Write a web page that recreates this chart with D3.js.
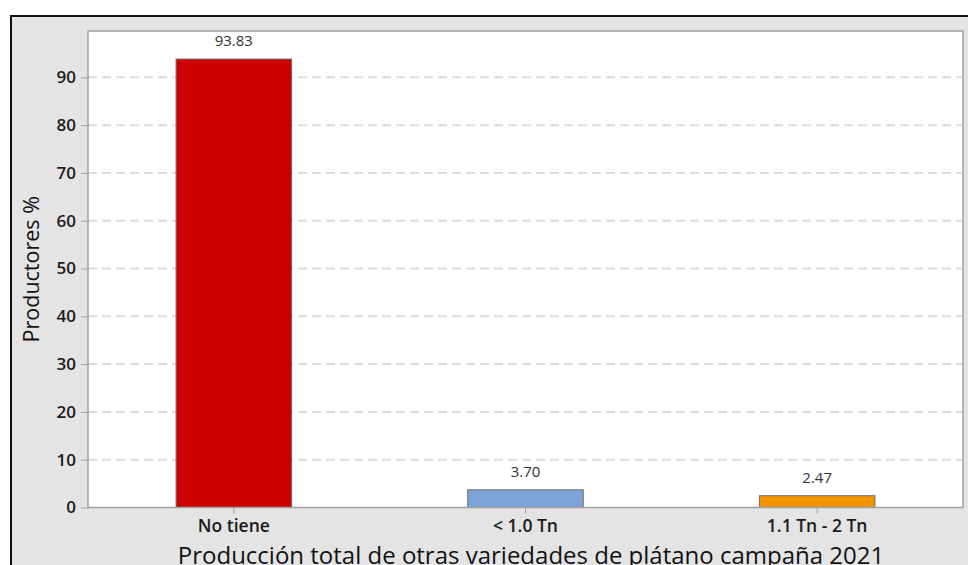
<!DOCTYPE html>
<html>
<head>
<meta charset="utf-8">
<script src="https://cdn.jsdelivr.net/npm/d3@7"></script>
<style>
  body { margin: 0; background: #fff; }
  svg { display: block; font-family: 'Open Sans', sans-serif; }
</style>
</head>
<body>
<div id="chart"></div>
<script>
// Datos de la gráfica
const categorias = ["No tiene", "< 1.0 Tn", "1.1 Tn - 2 Tn"];
const valores = [93.83, 3.70, 2.47];
const colores = ["#cc0000", "#7ba5d8", "#f39300"];
const ticksY = [0, 10, 20, 30, 40, 50, 60, 70, 80, 90];

const width = 968, height = 565;
const plot = { left: 88, top: 31, right: 963, bottom: 507.5 };

const svg = d3.select("#chart").append("svg")
    .attr("width", width)
    .attr("height", height);

// marco exterior gris con borde negro
svg.append("rect")
    .attr("x", 11).attr("y", 16)
    .attr("width", width + 10).attr("height", height + 10)
    .attr("fill", "#e4e4e4")
    .attr("stroke", "#111").attr("stroke-width", 2);

// área del gráfico
svg.append("rect")
    .attr("x", plot.left).attr("y", plot.top)
    .attr("width", plot.right - plot.left).attr("height", plot.bottom - plot.top)
    .attr("fill", "#fff");

const x = d3.scaleBand()
    .domain(categorias)
    .range([plot.left, plot.right])
    .paddingInner(0.604)
    .paddingOuter(0.302);

const y = d3.scaleLinear()
    .domain([0, 99.7])
    .range([plot.bottom, plot.top]);

// líneas de cuadrícula
svg.append("g")
    .selectAll("line")
    .data(ticksY.filter(d => d > 0))
    .enter().append("line")
    .attr("x1", plot.left).attr("x2", plot.right)
    .attr("y1", d => y(d)).attr("y2", d => y(d))
    .attr("stroke", "#dcdcdc")
    .attr("stroke-width", 2)
    .attr("stroke-dasharray", "9,5");

// eje Y
const yAxis = svg.append("g")
    .attr("transform", `translate(${plot.left},0)`)
    .call(d3.axisLeft(y).tickValues(ticksY).tickSize(7).tickPadding(5));
yAxis.select(".domain").remove();
yAxis.selectAll("line").attr("stroke", "#a0a0a0");
yAxis.selectAll("text")
    .style("font-family", "'Open Sans', sans-serif")
    .style("font-size", "17px")
    .style("font-weight", "600")
    .style("fill", "#1a1a1a");

// eje X
const xAxis = svg.append("g")
    .attr("transform", `translate(0,${plot.bottom})`)
    .call(d3.axisBottom(x).tickSize(6));
xAxis.select(".domain").remove();
xAxis.selectAll("line").attr("stroke", "#a0a0a0");
xAxis.selectAll("text")
    .attr("y", 24)
    .attr("dy", 0)
    .style("font-family", "'Open Sans', sans-serif")
    .style("font-size", "17.5px")
    .style("font-weight", "600")
    .style("fill", "#1a1a1a");

// barras
svg.append("g")
    .selectAll("rect")
    .data(valores)
    .enter().append("rect")
    .attr("x", (d, i) => x(categorias[i]))
    .attr("y", d => y(d))
    .attr("width", x.bandwidth())
    .attr("height", d => y(0) - y(d))
    .attr("fill", (d, i) => colores[i])
    .attr("stroke", "#6e6e6e")
    .attr("stroke-width", 1);

// etiquetas de valor
svg.append("g")
    .selectAll("text")
    .data(valores)
    .enter().append("text")
    .attr("x", (d, i) => x(categorias[i]) + x.bandwidth() / 2)
    .attr("y", d => y(d) - 13)
    .attr("text-anchor", "middle")
    .style("font-size", "15px")
    .style("fill", "#333")
    .text(d => d.toFixed(2));

// borde del área del gráfico
svg.append("rect")
    .attr("x", plot.left).attr("y", plot.top)
    .attr("width", plot.right - plot.left).attr("height", plot.bottom - plot.top)
    .attr("fill", "none")
    .attr("stroke", "#a0a0a0").attr("stroke-width", 1.5);

// títulos de ejes
svg.append("text")
    .attr("x", 531)
    .attr("y", 564)
    .attr("text-anchor", "middle")
    .style("font-size", "24px")
    .style("fill", "#111")
    .text("Producción total de otras variedades de plátano campaña 2021");

svg.append("text")
    .attr("transform", `translate(39,${(plot.top + plot.bottom) / 2}) rotate(-90)`)
    .attr("text-anchor", "middle")
    .style("font-size", "21.5px")
    .style("fill", "#111")
    .text("Productores %");
</script>
</body>
</html>
